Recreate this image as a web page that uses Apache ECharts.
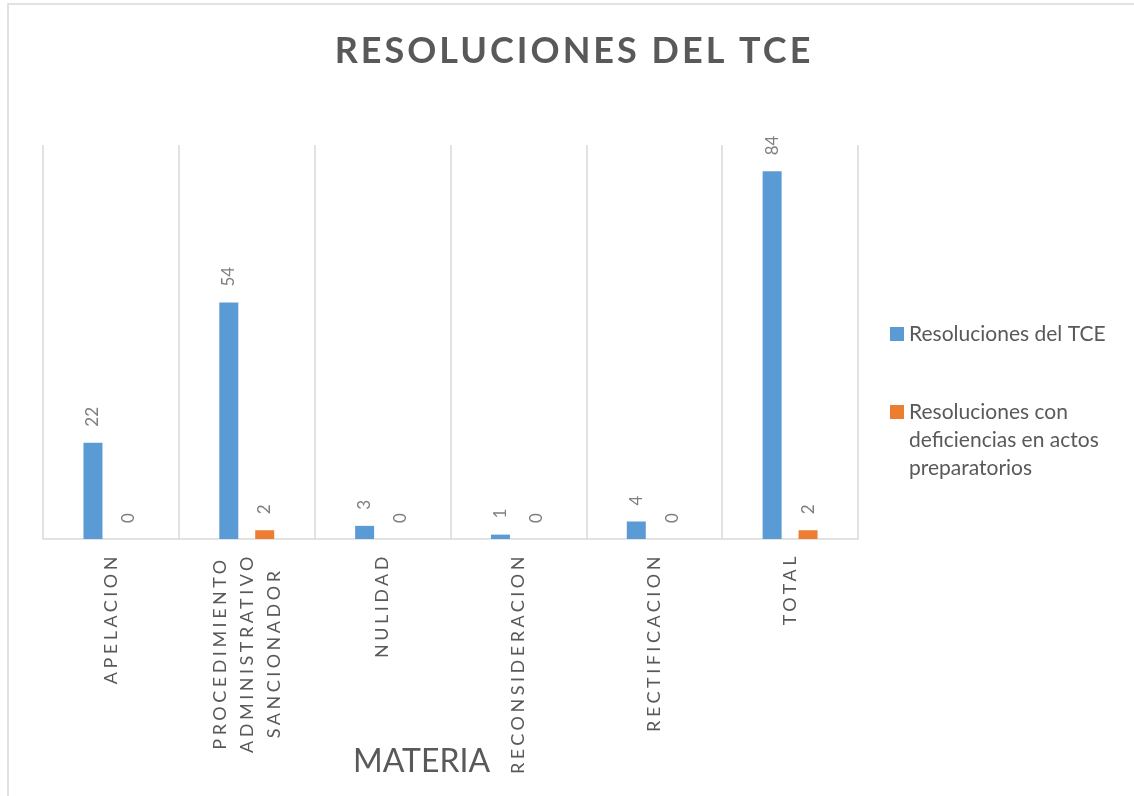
<!DOCTYPE html>
<html>
<head>
<meta charset="utf-8">
<title>Resoluciones del TCE</title>
<script src="https://cdn.jsdelivr.net/npm/echarts@6/dist/echarts.min.js"></script>
<style>
  html, body { margin: 0; padding: 0; background: #fff; }
  #chart { width: 1134px; height: 796px; }
</style>
</head>
<body>
<div id="chart"></div>
<script>
// datos
const categorias = ['APELACION', 'PROCEDIMIENTO ADMINISTRATIVO SANCIONADOR', 'NULIDAD', 'RECONSIDERACION', 'RECTIFICACION', 'TOTAL']
const resolucionesTCE = [22, 54, 3, 1, 4, 84]
const conDeficiencias = [0, 2, 0, 0, 0, 2]
const nombreSerie1 = 'Resoluciones del TCE'
const nombreSerie2 = 'Resoluciones con deficiencias en actos preparatorios'

// espaciado de letras estilo Excel (canvas letterSpacing, por tamaño de fuente)
const tracking = { '18px': '3.5px', '36px': '3px' }
;['fillText', 'measureText'].forEach(fn => {
  const orig = CanvasRenderingContext2D.prototype[fn]
  CanvasRenderingContext2D.prototype[fn] = function (...args) {
    const m = /(\d+)px/.exec(this.font)
    this.letterSpacing = (m && tracking[m[0]]) || '0px'
    return orig.apply(this, args)
  }
})

const gris = '#595959'
const font = 'Lato'

const chart = echarts.init(document.getElementById('chart'))

const option = {
  backgroundColor: '#fff',
  color: ['#5B9BD5', '#ED7D31'],
  textStyle: { fontFamily: font },
  title: {
    text: 'RESOLUCIONES DEL TCE',
    left: 569,
    textAlign: 'center',
    top: 27,
    textStyle: { fontFamily: font, fontSize: 36, fontWeight: 'bold', color: gris }
  },
  legend: [
    {
      orient: 'vertical',
      left: 890,
      top: 320,
      padding: 0,
      itemWidth: 14,
      itemHeight: 14,
      icon: 'rect',
      data: [nombreSerie1],
      textStyle: { fontFamily: font, fontSize: 21, color: gris, lineHeight: 28 }
    },
    {
      orient: 'vertical',
      left: 890,
      top: 342,
      padding: 0,
      itemWidth: 14,
      itemHeight: 14,
      icon: 'rect',
      data: [nombreSerie2],
      // dos líneas vacías arriba para que el icono quede junto a la primera línea
      formatter: () => '\n\nResoluciones con\ndeficiencias en actos\npreparatorios',
      textStyle: { fontFamily: font, fontSize: 21, color: gris, lineHeight: 28 }
    }
  ],
  grid: { left: 43, right: 276, top: 145, bottom: 257, outerBoundsMode: 'none' },
  xAxis: {
    type: 'category',
    data: categorias,
    name: 'MATERIA',
    nameLocation: 'middle',
    nameGap: 207,
    nameMoveOverlap: false,
    nameTextStyle: { fontFamily: font, fontSize: 32, color: gris, padding: [0, 58, 0, 0] },
    axisLine: { lineStyle: { color: '#d9d9d9', width: 1.5 } },
    axisTick: { show: false },
    splitLine: { show: true, interval: 0, lineStyle: { color: '#d9d9d9', width: 1.5 } },
    axisLabel: {
      interval: 0,
      rotate: 90,
      margin: 14,
      formatter: v => v.split(' ').map(s => '{c|' + s + '}').join('\n'),
      rich: {
        c: { fontFamily: font, fontSize: 18, color: gris, lineHeight: 27, align: 'center' }
      }
    }
  },
  yAxis: {
    type: 'value',
    min: 0,
    max: 90,
    show: false
  },
  series: [
    {
      name: nombreSerie1,
      type: 'bar',
      data: resolucionesTCE,
      barWidth: 19,
      barGap: '89%',
      label: {
        show: true,
        position: 'top',
        rotate: 90,
        align: 'left',
        verticalAlign: 'middle',
        distance: 16,
        fontFamily: font,
        fontSize: 17,
        color: '#7f7f7f'
      }
    },
    {
      name: nombreSerie2,
      type: 'bar',
      data: conDeficiencias,
      barWidth: 19,
      label: {
        show: true,
        position: 'top',
        rotate: 90,
        align: 'left',
        verticalAlign: 'middle',
        distance: 16,
        fontFamily: font,
        fontSize: 17,
        color: '#7f7f7f'
      }
    }
  ],
  graphic: [
    {
      type: 'rect',
      silent: true,
      shape: { x: 8, y: 4, width: 1300, height: 900 },
      style: { fill: 'none', stroke: '#d9d9d9', lineWidth: 1.5 }
    }
  ]
}

chart.setOption(option)
</script>
</body>
</html>
